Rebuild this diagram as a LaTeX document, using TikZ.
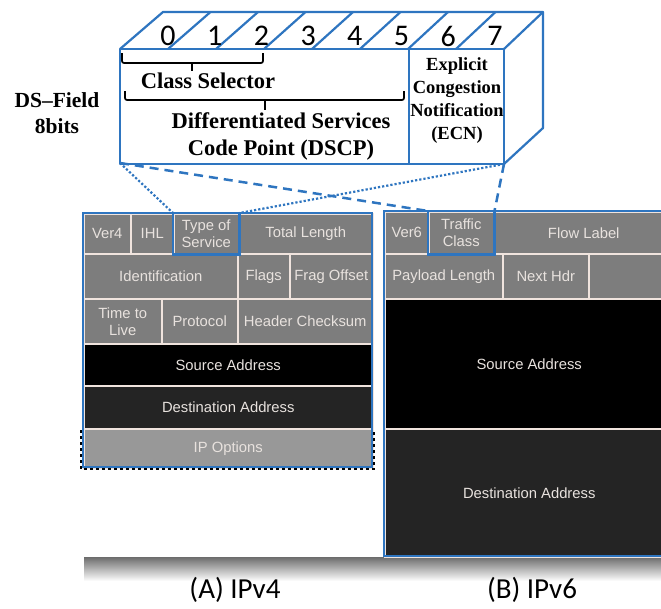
\documentclass[tikz,border=0pt]{standalone}
\usepackage{fontspec}
\setmainfont{Liberation Serif}
\newfontfamily\hdrfont{Liberation Sans}
\newfontfamily\calfont{Carlito}
\definecolor{boxblue}{RGB}{46,117,192}
\definecolor{cellgray}{RGB}{125,125,125}
\definecolor{cellline}{RGB}{240,228,222}
\definecolor{celltext}{RGB}{232,226,222}
\definecolor{dstgray}{RGB}{36,36,36}
\definecolor{optgray}{RGB}{152,152,152}
\begin{document}
\begin{tikzpicture}[x=1pt,y=-1pt,
  cell/.style={draw=cellline, line width=1.5pt, fill=cellgray, text=celltext,
    font=\hdrfont\fontsize{14.8}{17}\selectfont, anchor=north west, inner sep=0pt, align=center},
  hilite/.style={draw=boxblue, line width=2.6pt},
  boxedge/.style={draw=boxblue, line width=2.2pt, line join=round},
  digit/.style={font=\calfont\fontsize{30}{32}\selectfont, inner sep=0pt},
  lbl/.style={font=\bfseries\fontsize{22.5}{27}\selectfont, inner sep=0pt, align=center},
  dslbl/.style={font=\bfseries\fontsize{21.5}{26}\selectfont, inner sep=0pt, align=center},
  ecn/.style={font=\bfseries\fontsize{18.5}{23}\selectfont, inner sep=0pt, align=center},
  brace/.style={line width=1.7pt, rounded corners=2pt},
  dotlink/.style={draw=boxblue, line width=2.2pt, dotted},
  dashlink/.style={draw=boxblue, line width=2.5pt, dash pattern=on 9pt off 6pt},
  caption/.style={font=\calfont\fontsize{29}{32}\selectfont, inner sep=0pt}]
\useasboundingbox (0,0) rectangle (661,608);
\clip (0,0) rectangle (661,608);
\fill[white] (0,0) rectangle (661,608);

% ---------- card with shadow ----------
\shade[top color=black!60, bottom color=white] (84,556) rectangle (661,581);
\fill[white] (80,203) rectangle (661,557);

% ---------- IPv4 header ----------
\node[cell, minimum width=47pt, minimum height=40pt] (ver4) at (83,213) {Ver4};
\node[cell, minimum width=43pt, minimum height=40pt] (ihl) at (130,213) {IHL};
\node[cell, minimum width=65pt, minimum height=40pt] (tos) at (173,213) {Type of\\Service};
\node[cell, minimum width=134pt, minimum height=40pt] (tlen) at (238,213) {Total Length};
\node[cell, minimum width=154pt, minimum height=45pt] (ident) at (83,253) {Identification};
\node[cell, minimum width=52pt, minimum height=45pt] (flags) at (237,253) {Flags};
\node[cell, minimum width=83pt, minimum height=45pt] (frag) at (289,253) {Frag Offset};
\node[cell, minimum width=78pt, minimum height=45pt] (ttl) at (83,298) {Time to\\Live};
\node[cell, minimum width=76pt, minimum height=45pt] (proto) at (161,298) {Protocol};
\node[cell, minimum width=135pt, minimum height=45pt] (hchk) at (237,298) {Header Checksum};
\node[cell, fill=black, minimum width=289pt, minimum height=42pt] (src4) at (83,343) {Source Address};
\node[cell, fill=dstgray, minimum width=289pt, minimum height=43pt] (dst4) at (83,385) {Destination Address};
\node[cell, fill=optgray, minimum width=289pt, minimum height=39pt] (opt4) at (83,428) {IP Options};
\draw[boxblue, line width=2pt] (83,467) -- (83,213) -- (372,213) -- (372,467) -- cycle;
\draw[black, line width=1.4pt, dashed] (81,430) -- (81,469) -- (374,469) -- (374,430);
\draw[hilite] (tos.north west) rectangle (tos.south east);

% ---------- IPv6 header ----------
\node[cell, minimum width=44pt, minimum height=42pt] (ver6) at (384,211) {Ver6};
\node[cell, minimum width=65pt, minimum height=42pt] (tc) at (428,211) {Traffic\\Class};
\node[cell, minimum width=180pt, minimum height=42pt] (flow) at (493,211) {Flow Label};
\node[cell, minimum width=118pt, minimum height=45pt] (plen) at (384,253) {Payload Length};
\node[cell, minimum width=86pt, minimum height=45pt] (nhdr) at (502,253) {Next Hdr};
\node[cell, minimum width=85pt, minimum height=45pt] (blank6) at (588,253) {};
\node[cell, fill=black, minimum width=289pt, minimum height=130pt] (src6) at (384,298) {Source Address};
\node[cell, fill=dstgray, minimum width=289pt, minimum height=128pt] (dst6) at (384,428) {Destination Address};
\draw[boxblue, line width=2pt] (675,211) -- (384,211) -- (384,556) -- (675,556);
\draw[hilite] (tc.north west) rectangle (tc.south east);

% ---------- 3D DS-field box ----------
\coordinate (ftl) at (120,49);
\coordinate (ftr) at (504,49);
\coordinate (fbl) at (120,163);
\coordinate (fbr) at (504,164);
\coordinate (btl) at (163,12);
\coordinate (btr) at (543,12);
\coordinate (bbr) at (543,128);
\foreach \s in {1,...,6}
  \fill[black, opacity=0.09, shift={(\s,\s)}] (ftl) -- (btl) -- (btr) -- (bbr) -- (fbr) -- (fbl) -- cycle;
\fill[white] (ftl) -- (btl) -- (btr) -- (bbr) -- (fbr) -- (fbl) -- cycle;
\draw[boxedge] (ftl) rectangle (fbr);
\draw[boxedge] (ftl) -- (btl) -- (btr) -- (ftr);
\draw[boxedge] (btr) -- (bbr) -- (fbr);
\foreach \k in {1,...,7}
  \draw[boxedge] ({120+48*\k},49) -- ({163+47.5*\k},12);
\draw[boxedge] (409,49) -- (409,164);
\foreach \k in {0,...,7}
  \node[digit] (d\k) at ({168+46.7*\k},36) {\k};

% braces
\draw[brace] (122,53) -- (122,63) -- (263,63) -- (263,53);
\draw[line width=1.7pt] (192,63) -- (192,71);
\node[lbl] (cs) at (208,81) {Class Selector};
\draw[brace] (125,91) -- (125,100) -- (404,100) -- (404,91);
\draw[line width=1.7pt] (265,100) -- (265,110);
\node[lbl] (dscp) at (281,136) {Differentiated Services\\Code Point (DSCP)};
\node[ecn] (ecnl) at (457,101) {Explicit\\Congestion\\Notification\\(ECN)};
\node[dslbl] (dsf) at (57,113) {DS–Field\\8bits};

% ---------- links ----------
\draw[dotlink] (fbl) -- (tos.north west);
\draw[dotlink] (fbr) -- (tos.north east);
\draw[dashlink] (fbl) -- (tc.north west);
\draw[dashlink] (fbr) -- (tc.north east);

% ---------- captions ----------
\node[caption] (capa) at (235,590) {(A) IPv4};
\node[caption] (capb) at (532,590) {(B) IPv6};
\end{tikzpicture}
\end{document}
